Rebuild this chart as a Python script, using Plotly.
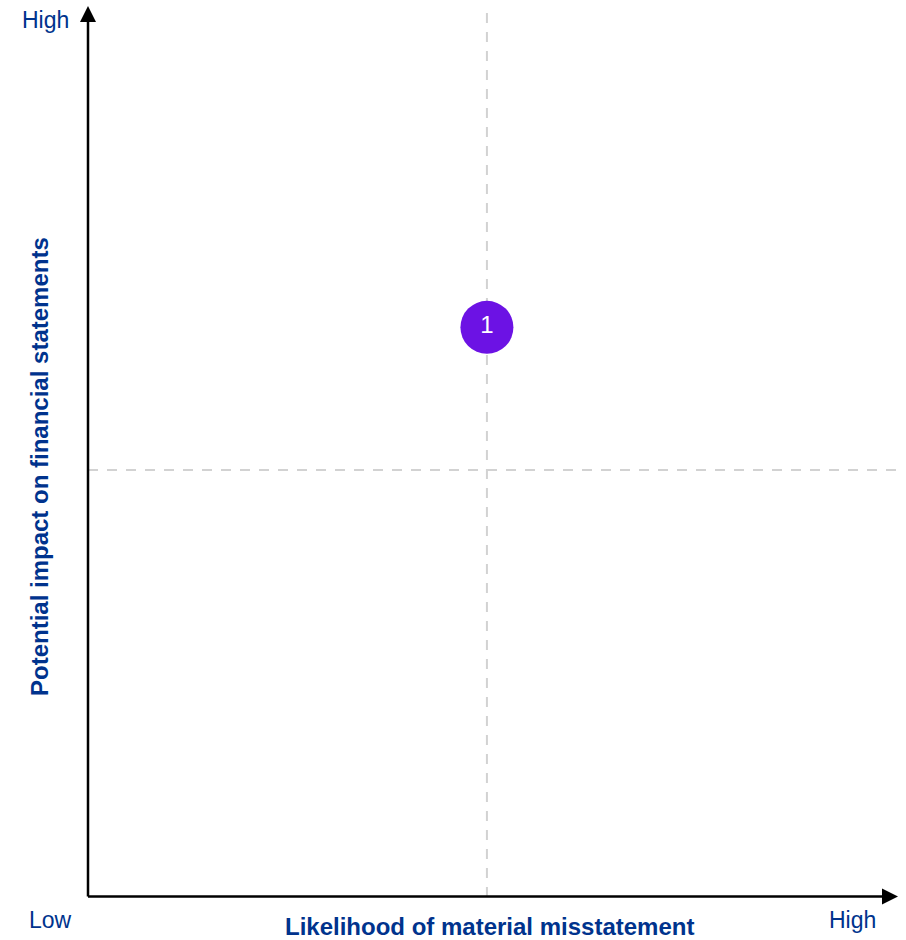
import plotly.graph_objects as go

# Risk items plotted on the likelihood / impact matrix
risk_ids = ["1"]
likelihood = [5.0]
impact = [6.67]

# Quadrant dividers (data units)
x_divider = 5.0
y_divider = 5.0

# Axis end labels
low_label = "Low"
high_label = "High"
x_title = "Likelihood of material misstatement"
y_title = "Potential impact on financial statements"

BLUE = "#00338D"
PURPLE = "#6C12E4"
GRID = "#D2D2D2"
FONT = "Arial, Liberation Sans, sans-serif"

WIDTH, HEIGHT = 906, 940
ML, MR, MT, MB = 88, 5, 10, 43
PW = WIDTH - ML - MR
PH = HEIGHT - MT - MB

X_MAX = 10.19
Y_MAX = 10.386


def px(xp):
    return (xp - ML) / PW


def py(yp):
    return (HEIGHT - MB - yp) / PH


fig = go.Figure()

fig.add_trace(go.Scatter(
    x=likelihood, y=impact, mode="markers+text",
    text=risk_ids, textposition="middle center",
    textfont=dict(family=FONT, size=24, color="white"),
    marker=dict(size=53, color=PURPLE, line=dict(width=0)),
    hoverinfo="skip", showlegend=False,
))

shapes = [
    # dashed quadrant dividers
    dict(type="line", xref="x", yref="y", x0=x_divider, x1=x_divider, y0=0, y1=Y_MAX,
         line=dict(color=GRID, width=2, dash="10px,9px"), layer="below"),
    dict(type="line", xref="x", yref="y", x0=0, x1=X_MAX, y0=y_divider, y1=y_divider,
         line=dict(color=GRID, width=2, dash="10px,9px"), layer="below"),
    # axis lines
    dict(type="line", xref="paper", yref="paper", x0=px(88), x1=px(884), y0=py(896.5), y1=py(896.5),
         line=dict(color="black", width=2.5)),
    dict(type="line", xref="paper", yref="paper", x0=px(88), x1=px(88), y0=py(896.5), y1=py(20),
         line=dict(color="black", width=2.5)),
    # arrowheads
    dict(type="path", xref="paper", yref="paper", xsizemode="pixel", ysizemode="pixel",
         xanchor=px(898), yanchor=py(896.5), path="M 0 0 L -16 8 L -16 -8 Z",
         fillcolor="black", line=dict(width=0)),
    dict(type="path", xref="paper", yref="paper", xsizemode="pixel", ysizemode="pixel",
         xanchor=px(88), yanchor=py(6), path="M 0 0 L -8 -16 L 8 -16 Z",
         fillcolor="black", line=dict(width=0)),
]

annotations = [
    dict(text=high_label, x=px(45), y=py(20), xref="paper", yref="paper", showarrow=False,
         font=dict(family=FONT, size=23, color=BLUE), xanchor="center", yanchor="middle"),
    dict(text=low_label, x=px(50), y=py(920), xref="paper", yref="paper", showarrow=False,
         font=dict(family=FONT, size=23, color=BLUE), xanchor="center", yanchor="middle"),
    dict(text=high_label, x=px(852), y=py(920), xref="paper", yref="paper", showarrow=False,
         font=dict(family=FONT, size=23, color=BLUE), xanchor="center", yanchor="middle"),
    dict(text="<b>" + x_title + "</b>", x=px(489), y=py(927), xref="paper", yref="paper",
         showarrow=False, font=dict(family=FONT, size=24, color=BLUE),
         xanchor="center", yanchor="middle"),
    dict(text="<b>" + y_title + "</b>", x=px(40), y=py(467), xref="paper", yref="paper",
         showarrow=False, textangle=-90, font=dict(family=FONT, size=24, color=BLUE),
         xanchor="center", yanchor="middle"),
]

fig.update_layout(
    width=WIDTH, height=HEIGHT,
    margin=dict(l=ML, r=MR, t=MT, b=MB, pad=0),
    paper_bgcolor="white", plot_bgcolor="white",
    xaxis=dict(range=[0, X_MAX], visible=False, fixedrange=True),
    yaxis=dict(range=[0, Y_MAX], visible=False, fixedrange=True),
    shapes=shapes, annotations=annotations,
    showlegend=False,
)

fig.write_html("out.html", config={"displayModeBar": False})
